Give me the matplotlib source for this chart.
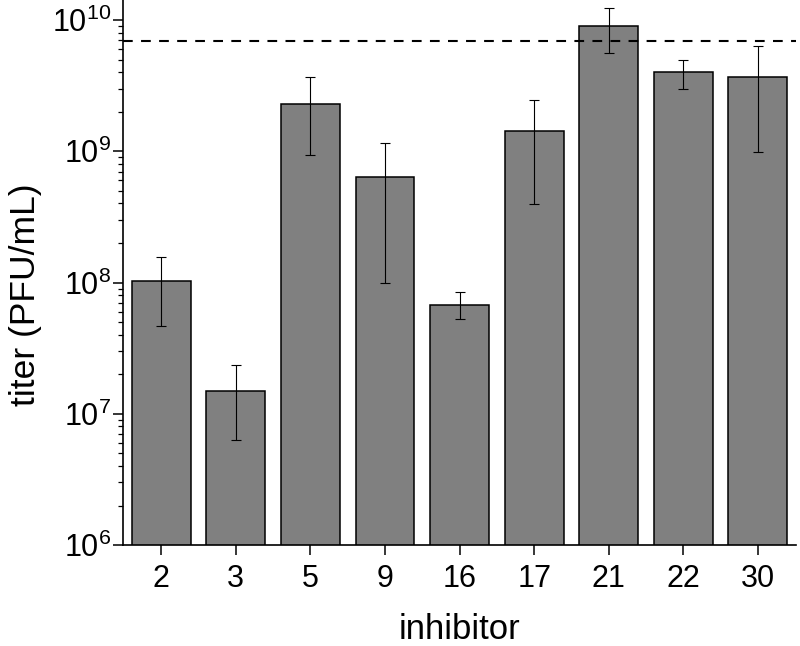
import numpy as np
import matplotlib
matplotlib.use("Agg")
import matplotlib.pyplot as plt
from matplotlib import ticker

plt.rcParams['font.family'] = ['Liberation Sans', 'DejaVu Sans']
plt.rcParams['mathtext.default'] = 'regular'
plt.rcParams['lines.scale_dashes'] = False

# data
inhibitors = ['2', '3', '5', '9', '16', '17', '21', '22', '30']
titer = [1.02e8, 1.48e7, 2.29e9, 6.34e8, 6.78e7, 1.43e9, 8.96e9, 4.02e9, 3.66e9]
err_high = [1.56e8, 2.35e7, 3.66e9, 1.16e9, 8.47e7, 2.46e9, 1.23e10, 4.98e9, 6.37e9]
err_low = [4.66e7, 6.3e6, 9.36e8, 1.0e8, 5.27e7, 3.98e8, 5.64e9, 3.0e9, 9.82e8]
reference_titer = 6.95e9

titer = np.array(titer)
yerr = [titer - np.array(err_low), np.array(err_high) - titer]
x = np.arange(len(inhibitors))

fig = plt.figure(figsize=(8, 6.46), dpi=100)
ax = fig.add_axes([0.154, 0.1563, 0.841, 0.8437])

ax.bar(x, titer, width=0.79, color='#808080', edgecolor='black', linewidth=1.1,
       zorder=2)
ax.errorbar(x, titer, yerr=yerr, fmt='none', ecolor='black', elinewidth=0.8,
            capsize=3.8, capthick=0.8, zorder=3)
ax.axhline(reference_titer, color='black', linewidth=1.5, dashes=(7, 6), zorder=4)

ax.set_yscale('log')
ax.set_ylim(1e6, 1.42e10)
ax.set_xlim(-0.51, len(inhibitors) - 0.49)
ax.set_xticks(x)
ax.set_xticklabels(inhibitors)
ax.yaxis.set_major_locator(ticker.LogLocator(base=10, numticks=100))
ax.yaxis.set_minor_locator(ticker.LogLocator(base=10, subs=np.arange(2, 10), numticks=100))
ax.yaxis.set_minor_formatter(ticker.NullFormatter())

for side in ['top', 'right']:
    ax.spines[side].set_visible(False)
for side in ['left', 'bottom']:
    ax.spines[side].set_linewidth(1.2)

ax.tick_params(axis='both', which='major', direction='out', length=7.5, width=1.1,
               labelsize=22)
ax.tick_params(axis='x', which='major', pad=6)
ax.tick_params(axis='y', which='major', pad=1)
ax.tick_params(axis='y', which='minor', direction='out', length=3.8, width=0.9)

ax.set_xlabel('inhibitor', fontsize=25, labelpad=14)
ax.set_ylabel('titer (PFU/mL)', fontsize=25.5)
ax.yaxis.set_label_coords(-0.12, 0.459)

fig.savefig('out.png', dpi=100)
